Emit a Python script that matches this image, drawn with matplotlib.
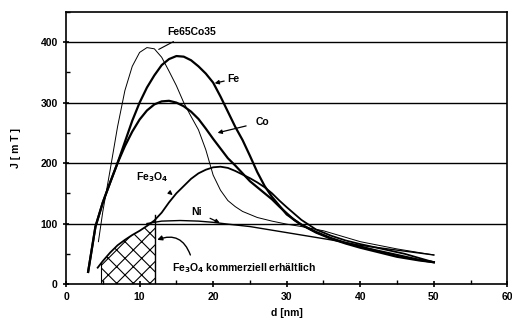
import matplotlib
matplotlib.use("Agg")
import matplotlib.pyplot as plt
from matplotlib.ticker import MultipleLocator

plt.rcParams['font.family'] = ['Liberation Sans', 'DejaVu Sans']
plt.rcParams['font.weight'] = 'bold'
plt.rcParams['hatch.linewidth'] = 0.8

# ---- data ----
fe_x = [3, 4, 5, 6, 7, 8, 9, 10, 11, 12, 13, 14, 15, 16, 17, 18, 19, 20, 21, 22, 23, 24,
        25, 26, 27, 28, 30, 32, 34, 36, 38, 40, 42, 45, 48, 50]
fe_y = [20, 95, 135, 168, 200, 235, 270, 300, 325, 345, 362, 372, 377, 376, 370, 360, 348,
        333, 310, 285, 260, 238, 212, 185, 162, 144, 115, 98, 85, 75, 67, 60, 54, 45, 39, 36]

co_x = [3, 4, 5, 6, 7, 8, 9, 10, 11, 12, 13, 14, 15, 16, 17, 18, 19, 20, 21, 22, 23, 24,
        25, 26, 27, 28, 29, 30, 31, 32, 33, 34, 36, 38, 40, 42, 45, 48, 50]
co_y = [20, 95, 135, 168, 200, 228, 252, 272, 287, 297, 302, 303, 300, 294, 285, 273, 257,
        240, 224, 208, 196, 183, 170, 160, 150, 140, 128, 117, 106, 98, 92, 86, 76, 68, 62,
        56, 48, 40, 36]

feco_x = [4.4, 5, 6, 7, 8, 9, 10, 11, 12, 13, 14, 15, 16, 17, 18, 19, 20, 21, 22, 23, 24,
          26, 28, 30, 32, 35, 40, 45, 50]
feco_y = [70, 120, 189, 260, 320, 360, 383, 391, 389, 375, 352, 328, 300, 277, 255, 222, 180,
          155, 138, 128, 120, 110, 104, 99, 95, 88, 70, 58, 48]

fe3o4_x = [4.3, 5, 6, 7, 8, 9, 10, 11, 12, 13, 14, 15, 16, 17, 18, 19, 20, 21, 22, 23, 24,
           25, 26, 27, 28, 29, 30, 32, 34, 36, 38, 40, 43, 46, 50]
fe3o4_y = [27, 38, 52, 64, 73, 81, 88, 96, 105, 118, 135, 150, 162, 174, 183, 189, 193, 194,
           192, 187, 181, 175, 168, 160, 150, 138, 127, 106, 90, 80, 72, 66, 58, 50, 36]

ni_x = [11, 13, 15.5, 18, 20, 22, 25, 28, 30, 33, 36, 40, 45, 50]
ni_y = [100, 104, 105, 104, 102, 99, 95, 89, 85, 79, 73, 64, 56, 48]

# commercially available Fe3O4 region (x bounds)
comm_x0, comm_x1 = 4.8, 12.1

x_ticks = [0, 10, 20, 30, 40, 50, 60]
y_ticks = [0, 100, 200, 300, 400]

fig = plt.figure(figsize=(5.12, 3.31), dpi=100)
ax = fig.add_axes([0.129, 0.142, 0.862, 0.822])

ax.set_xlim(0, 60)
ax.set_ylim(0, 450)
ax.set_xticks(x_ticks)
ax.set_yticks(y_ticks)
ax.xaxis.set_minor_locator(MultipleLocator(5))
ax.yaxis.set_minor_locator(MultipleLocator(50))
ax.tick_params(which='major', direction='inout', length=5, width=1.2, labelsize=7.5)
ax.tick_params(which='minor', direction='in', length=3, width=1.0)
for lab in ax.get_xticklabels() + ax.get_yticklabels():
    lab.set_fontweight('bold')
for s in ax.spines.values():
    s.set_linewidth(1.2)

for yv in y_ticks[1:]:
    ax.axhline(yv, color='black', lw=1.0, zorder=1)

# hatched region under Fe3O4 curve
hx = [x for x in fe3o4_x if comm_x0 <= x <= comm_x1]
hy = [y for x, y in zip(fe3o4_x, fe3o4_y) if comm_x0 <= x <= comm_x1]
poly_x = [comm_x0] + hx + [comm_x1, comm_x1, comm_x0]
poly_y = [35] + hy + [108, 0, 0]
ax.fill(poly_x, poly_y, facecolor='none', edgecolor='black', hatch='xx', lw=0, zorder=2)
ax.plot([comm_x1, comm_x1], [0, 114], color='black', lw=1.0, zorder=3)
ax.plot([comm_x0, comm_x0], [0, 35], color='black', lw=0.8, zorder=3)

ax.plot(fe_x, fe_y, color='black', lw=1.6, zorder=4)
ax.plot(co_x, co_y, color='black', lw=1.6, zorder=4)
ax.plot(feco_x, feco_y, color='black', lw=0.7, zorder=4)
ax.plot(fe3o4_x, fe3o4_y, color='black', lw=1.3, zorder=4)
ax.plot(ni_x, ni_y, color='black', lw=1.0, zorder=4)

arrow = dict(arrowstyle='-|>', color='black', lw=0.9, mutation_scale=6, shrinkA=0, shrinkB=0)
fs = 7.5
ax.annotate('Fe65Co35', xy=(12.6, 388), xytext=(17.1, 417), ha='center', va='center',
            fontsize=fs, fontweight='bold', arrowprops=dict(arrowstyle='-', color='black', lw=0.8,
                                                            shrinkA=3, shrinkB=0))
ax.annotate('Fe', xy=(20.2, 332), xytext=(22.7, 339), ha='center', va='center',
            fontsize=fs, fontweight='bold', arrowprops=arrow)
ax.annotate('Co', xy=(20.6, 250), xytext=(26.7, 268), ha='center', va='center',
            fontsize=fs, fontweight='bold', arrowprops=dict(arrow, shrinkA=5))
ax.annotate('Fe$_3$O$_4$', xy=(14.5, 147), xytext=(11.7, 176), ha='center', va='center',
            fontsize=fs, fontweight='bold', arrowprops=dict(arrow, shrinkA=6))
ax.annotate('Ni', xy=(20.9, 101), xytext=(17.8, 119), ha='center', va='center',
            fontsize=fs, fontweight='bold', arrowprops=dict(arrow, shrinkA=4))
ax.text(14.4, 27, 'Fe$_3$O$_4$ kommerziell erhältlich', ha='left', va='center',
        fontsize=fs, fontweight='bold')
ax.annotate('', xy=(12.4, 73), xytext=(16.9, 48),
            arrowprops=dict(arrowstyle='-|>', color='black', lw=1.0, mutation_scale=7,
                            connectionstyle='arc3,rad=0.5', shrinkA=0, shrinkB=0))

ax.set_xlabel('d [nm]', fontsize=fs, fontweight='bold', labelpad=4)
ax.set_ylabel('J [ m T ]', fontsize=fs, fontweight='bold', labelpad=14)

fig.savefig('out.png', dpi=100)
